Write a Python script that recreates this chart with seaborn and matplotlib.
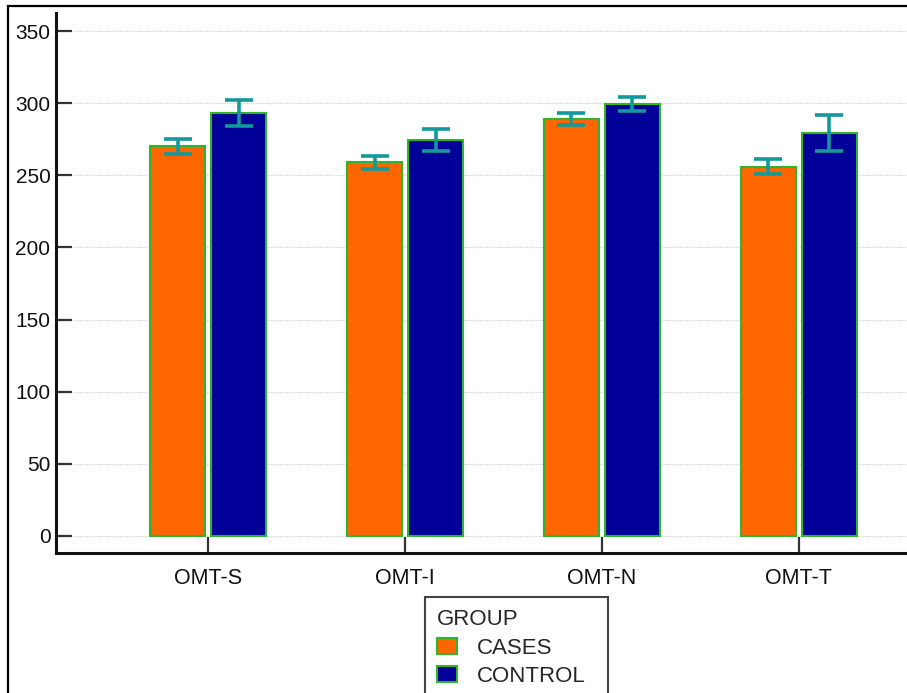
import matplotlib
matplotlib.use("Agg")
import matplotlib.pyplot as plt
from matplotlib.patches import Rectangle
import seaborn as sns
import pandas as pd
import numpy as np

# Olfactory test scores: mean and error per group
tests = ["OMT-S", "OMT-I", "OMT-N", "OMT-T"]
groups = ["CASES", "CONTROL"]
cases_mean = [270, 259, 289, 256]
cases_err = [5, 4.3, 4, 5.2]
control_mean = [293, 274.5, 299.5, 279.5]
control_err = [9, 7.5, 5, 12.5]
yticks = [0, 50, 100, 150, 200, 250, 300, 350]

df = pd.DataFrame({
    "test": tests * 2,
    "GROUP": [groups[0]] * 4 + [groups[1]] * 4,
    "score": cases_mean + control_mean,
    "err": cases_err + control_err,
})

sns.set_theme(style="white")
plt.rcParams["font.family"] = ["Liberation Sans", "DejaVu Sans"]

W, H = 907, 693
fig = plt.figure(figsize=(W / 100, H / 100), dpi=100)
ax = fig.add_axes([56 / W, 1 - 553 / H, 1 - 56 / W + 0.002, (553 - 13) / H])

palette = {"CASES": "#FF6600", "CONTROL": "#000099"}
edge = "#2DB52D"
sns.barplot(data=df, x="test", y="score", hue="GROUP", order=tests,
            hue_order=groups, palette=palette, errorbar=None,
            width=0.62, gap=0.1, saturation=1, edgecolor=edge,
            linewidth=1.5, ax=ax, legend=True)

# error bars centred on each drawn bar
bars = [p for p in ax.patches if p.get_height() > 0]
bars = sorted(bars, key=lambda p: p.get_x())
order_vals = []
for i in range(len(tests)):
    order_vals.append((cases_mean[i], cases_err[i]))
    order_vals.append((control_mean[i], control_err[i]))
for p, (m, e) in zip(bars, order_vals):
    cx = p.get_x() + p.get_width() / 2
    ax.errorbar(cx, m, yerr=e, color="#13999A", elinewidth=2.6,
                capsize=10, capthick=2.6, zorder=5)

ax.set_xlim(-0.774, 3.56)
ax.set_ylim(-11.8, 362.5)
ax.set_yticks(yticks)
ax.set_yticklabels([str(v) for v in yticks])
ax.set_xlabel("")
ax.set_ylabel("")

for side in ["top", "right"]:
    ax.spines[side].set_visible(False)
for side in ["left", "bottom"]:
    ax.spines[side].set_linewidth(2.2)
    ax.spines[side].set_color("#111111")

ax.tick_params(axis="both", direction="in", length=11.5, width=1.6,
               color="#333333", labelcolor="#111111")
ax.tick_params(axis="y", labelsize=15, pad=4)
ax.tick_params(axis="x", labelsize=15.5, pad=11)
ax.tick_params(left=True, bottom=True)

# dotted horizontal guides starting past the tick marks
x0 = ax.transAxes.inverted().transform((73, 0))[0]
for v in yticks:
    ax.axhline(v, xmin=x0, xmax=1, color="#D0D0D0", linestyle=(0, (1, 1)),
               linewidth=0.8, zorder=0)

# legend below the axes
handles, labels = ax.get_legend_handles_labels()
ax.legend_.remove()
leg = fig.legend(handles, labels, title="GROUP", loc="upper left",
                 bbox_to_anchor=(425 / W, 1 - 597 / H), borderaxespad=0,
                 fontsize=16, title_fontsize=16, frameon=False,
                 handlelength=0.9, handleheight=0.75, handletextpad=0.9,
                 labelspacing=0.33, borderpad=0.55, alignment="left")
for h in leg.legend_handles:
    h.set_edgecolor(edge)
    h.set_linewidth(1.5)
fig.patches.append(Rectangle((425 / W, -0.1), (608 - 425) / W,
                             1 - 597 / H + 0.1, transform=fig.transFigure,
                             fill=False, edgecolor="#444444", linewidth=1.5))

# outer frame
fig.patches.append(Rectangle((8 / W, -0.1), 1.2, 1 - 6 / H + 0.1,
                             transform=fig.transFigure, fill=False,
                             edgecolor="black", linewidth=1.6))

fig.savefig("out.png", dpi=100)
